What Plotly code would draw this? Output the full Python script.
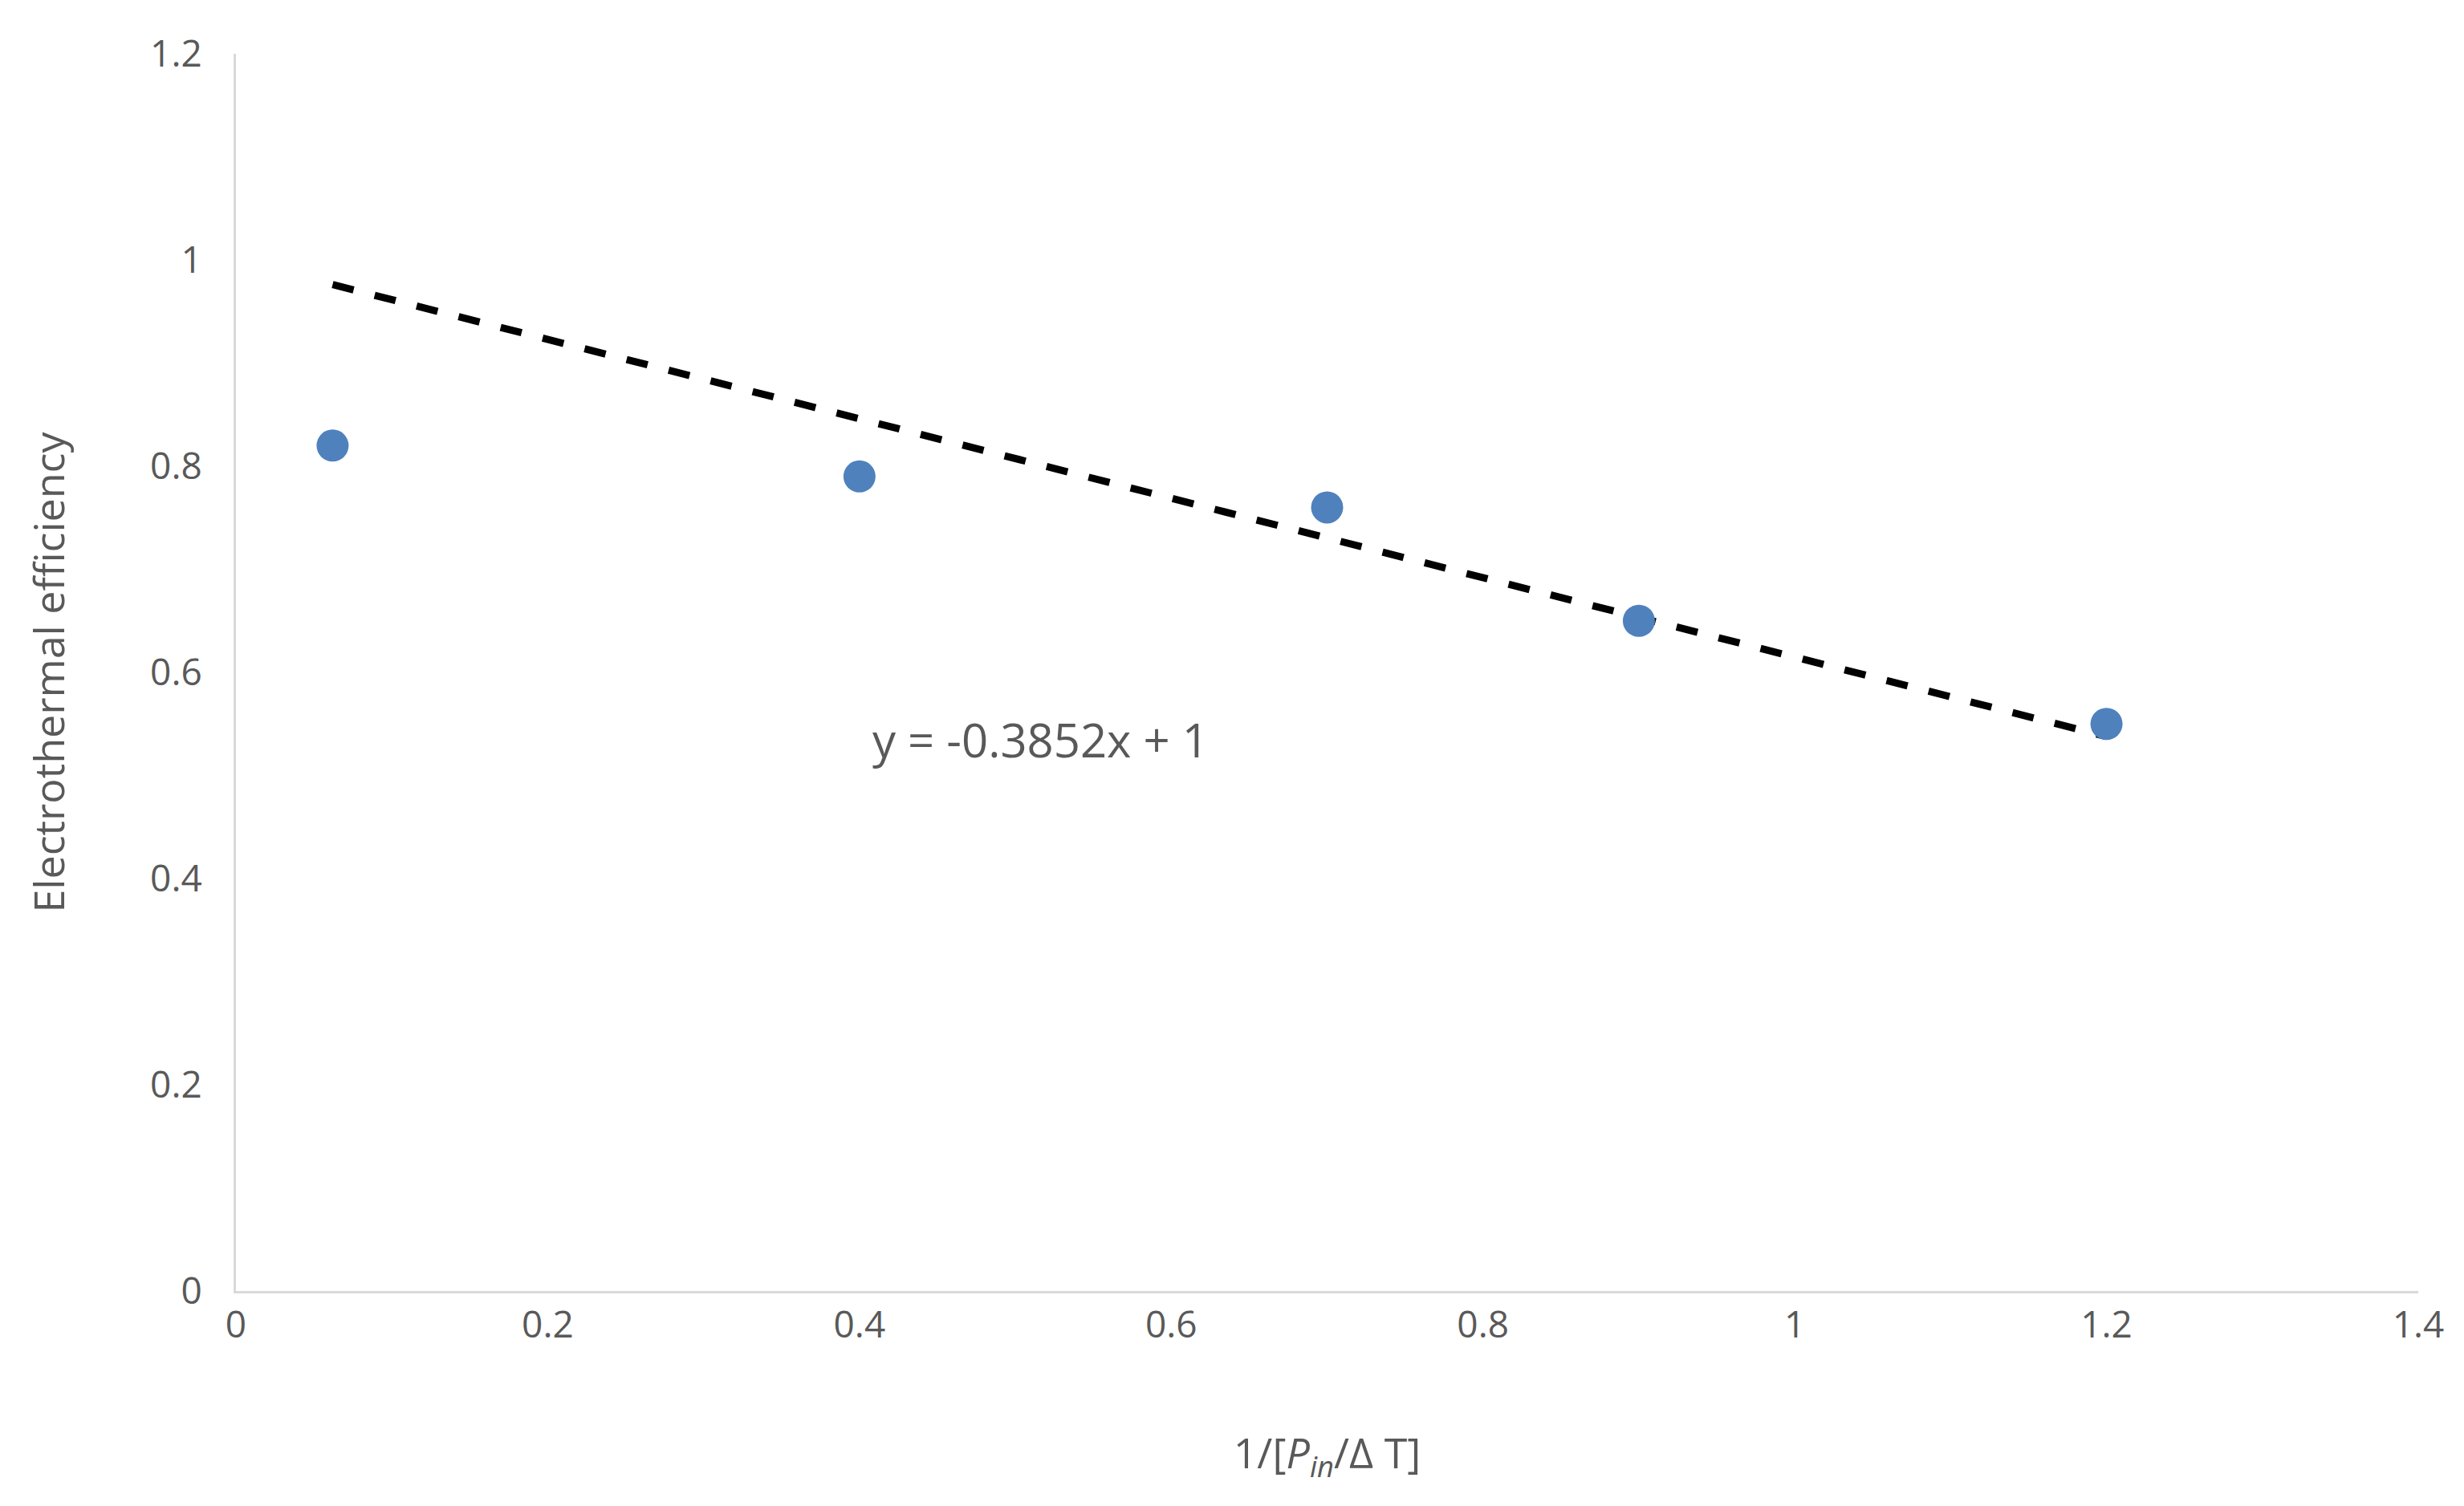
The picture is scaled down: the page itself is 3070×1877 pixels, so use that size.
import plotly.graph_objects as go

x_vals = [0.062, 0.4, 0.7, 0.9, 1.2]
y_vals = [0.82, 0.79, 0.76, 0.65, 0.55]
slope = -0.3852
intercept = 1.0
trend_x = [0.062, 1.2]
trend_y = [slope * v + intercept for v in trend_x]
x_ticks = [0, 0.2, 0.4, 0.6, 0.8, 1, 1.2, 1.4]
y_ticks = [0, 0.2, 0.4, 0.6, 0.8, 1, 1.2]

gray = "#595959"
font = dict(family="Open Sans, Liberation Sans, sans-serif", size=46, color=gray)

fig = go.Figure()
fig.add_trace(go.Scatter(x=trend_x, y=trend_y, mode="lines",
                         line=dict(color="black", width=9, dash="dash"), showlegend=False))
fig.add_trace(go.Scatter(x=x_vals, y=y_vals, mode="markers",
                         marker=dict(color="#4f81bd", size=40), showlegend=False))
fig.add_annotation(x=0.516, y=0.535, text="y = -0.3852x + 1", showarrow=False,
                   font=dict(family=font["family"], size=58, color=gray))

fig.update_layout(
    width=3070, height=1877, paper_bgcolor="white", plot_bgcolor="white",
    margin=dict(l=286, r=65, t=59, b=276), font=font,
    xaxis=dict(range=[0, 1.4], tickvals=x_ticks, ticktext=[str(t) for t in x_ticks],
               showgrid=False, zeroline=False, showline=True, linecolor="#d9d9d9",
               linewidth=3, ticks="", ticklen=0,
               title=dict(text="1/[<i>P</i><sub><i>in</i></sub>/Δ T]", standoff=115,
                          font=dict(size=52))),
    yaxis=dict(range=[0, 1.2], tickvals=y_ticks, ticktext=[str(t) for t in y_ticks],
               showgrid=False, zeroline=False, showline=True, linecolor="#d9d9d9",
               linewidth=3, ticks="", ticklabelstandoff=30,
               title=dict(text="Electrothermal efficiency", standoff=90,
                          font=dict(size=52))),
)
fig.write_html("out.html")
